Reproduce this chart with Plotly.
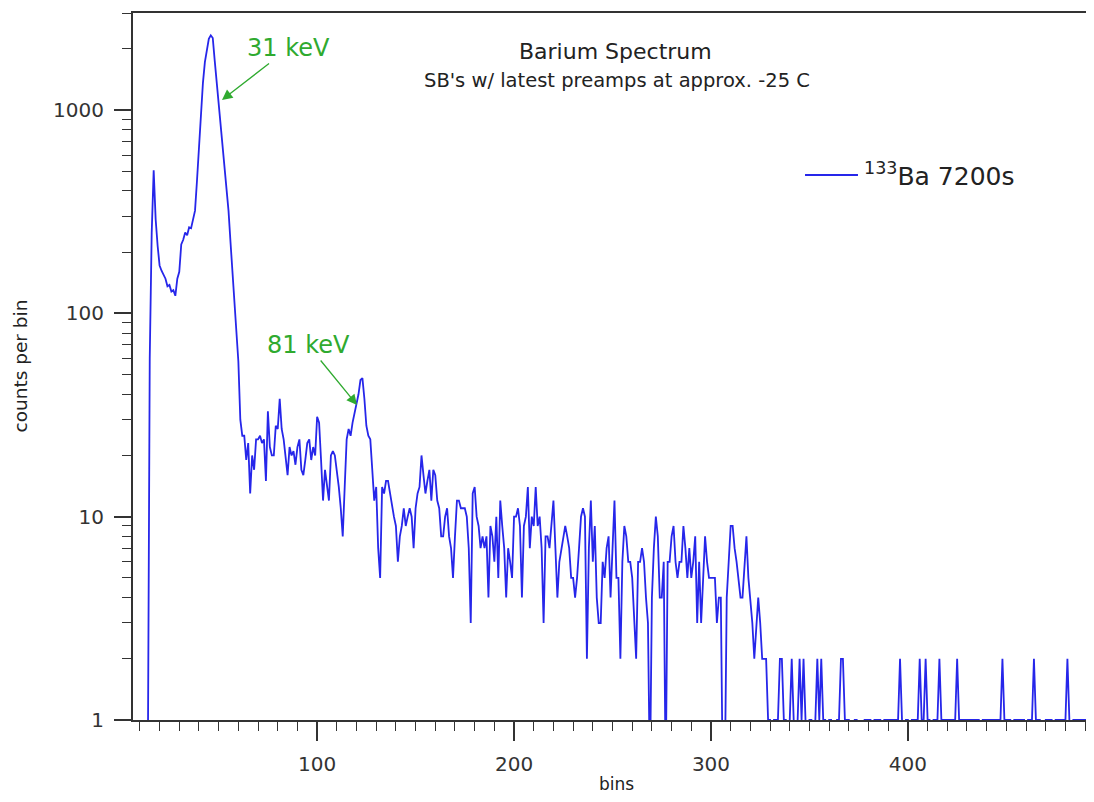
import math
import plotly.graph_objects as go

# ---- data ----
first_bin = 13
counts = [
    0, 0, 60, 250, 505, 290, 215, 172, 162, 155,            # 13-22
    148, 136, 138, 128, 130, 122, 148, 160, 218, 230,       # 23-32
    250, 242, 265, 262, 286, 320, 450, 680, 1010, 1355,     # 33-42
    1720, 1990, 2240, 2330, 2260, 1750, 1380, 1100, 870, 680,  # 43-52
    507, 400, 320, 225, 160, 115, 83, 58, 30, 25,           # 53-62
    25, 19, 23, 13, 20, 17, 24, 24, 25, 23,                 # 63-72
    24, 15, 33, 22, 20, 20, 28, 27, 38, 27,                 # 73-82
    24, 19, 16, 22, 20, 21, 18, 22, 24, 17,                 # 83-92
    16, 19, 23, 24, 19, 22, 20, 31, 29, 19,                 # 93-102
    12, 17, 14, 12, 20, 21, 20, 17, 14, 11,                 # 103-112
    8, 14, 24, 27, 25, 29, 32, 36, 40, 47,                  # 113-122
    48, 38, 28, 25, 24, 17, 12, 14, 7, 5,                   # 123-132
    14, 13, 15, 15, 13, 11, 10, 9, 6, 8,                    # 133-142
    9, 11, 9, 10, 11, 10, 7, 11, 13, 14,                    # 143-152
    20, 16, 13, 15, 17, 12, 17, 16, 12, 11,                 # 153-162
    8, 8, 10, 11, 8, 7, 5, 8, 12, 12,                       # 163-172
    11, 11, 11, 10, 7, 3, 13, 14, 10, 9,                    # 173-182
    7, 8, 7, 8, 4, 9, 8, 6, 10, 5,                          # 183-192
    12, 9, 7, 4, 7, 6, 5, 10, 10, 11,                       # 193-202
    9, 4, 9, 10, 14, 7, 10, 9, 14, 9,                       # 203-212
    10, 7, 3, 8, 8, 7, 9, 12, 7, 4,                         # 213-222
    6, 7, 8, 9, 8, 7, 5, 5, 4, 5,                           # 223-232
    7, 10, 11, 10, 2, 7, 12, 6, 9, 4,                       # 233-242
    3, 3, 6, 5, 7, 8, 4, 7, 12, 5,                          # 243-252
    5, 2, 6, 9, 8, 6, 6, 5, 3, 2,                           # 253-262
    6, 6, 7, 6, 4, 3, 0, 4, 7, 10,                          # 263-272
    8, 4, 4, 6, 0, 6, 6, 8, 9, 6,                           # 273-282
    5, 6, 6, 9, 7, 5, 7, 5, 6, 8,                           # 283-292
    3, 6, 3, 5, 8, 6, 5, 5, 5, 5,                           # 293-302
    3, 4, 4, 0, 0, 4, 6, 9, 9, 7,                           # 303-312
    6, 5, 4, 4, 6, 8, 5, 4, 3, 2,                           # 313-322
    3, 4, 3, 2, 2, 2, 1, 1, 0, 1,                           # 323-332
    1, 1, 2, 2, 1, 1, 0, 1, 2, 1,                           # 333-342
    0, 1, 2, 1, 2, 1, 0, 1, 1, 0,                           # 343-352
    1, 2, 1, 2, 1, 1, 0, 1, 1, 0,                           # 353-362
    0, 1, 1, 2, 2, 1, 1, 1, 0, 0,                           # 363-372
    1, 1, 0, 0, 0, 1, 1, 1, 1, 0,                           # 373-382
    1, 1, 1, 1, 0, 1, 1, 1, 1, 1,                           # 383-392
    1, 1, 1, 2, 1, 0, 1, 1, 0, 1,                           # 393-402
    1, 1, 1, 2, 1, 1, 2, 1, 1, 0,                           # 403-412
    1, 1, 1, 2, 1, 1, 1, 1, 1, 1,                           # 413-422
    1, 1, 2, 1, 1, 1, 1, 1, 1, 1,                           # 423-432
    1, 1, 1, 1, 0, 1, 1, 1, 1, 1,                           # 433-442
    1, 1, 1, 1, 1, 2, 1, 1, 1, 1,                           # 443-452
    0, 1, 1, 1, 1, 1, 1, 0, 1, 1,                           # 453-462
    1, 2, 1, 1, 1, 0, 0, 1, 1, 1,                           # 463-472
    1, 0, 1, 1, 1, 1, 1, 1, 2, 1,                           # 473-482
    0, 1, 1, 1, 1, 1, 1, 1, 1, 1,                           # 483-492
    1, 1,                                                   # 493-494
]
bins = list(range(first_bin, first_bin + len(counts)))

series_name = "<sup>133</sup>Ba 7200s"
y_major_ticks = [1, 10, 100, 1000]
y_major_text = ["1", "10", "100", "1000"]
y_minor_ticks = [2, 3, 4, 5, 6, 7, 8, 9, 20, 30, 40, 50, 60, 70, 80, 90,
                 200, 300, 400, 500, 600, 700, 800, 900, 2000, 3000]
x_major_ticks = [100, 200, 300, 400]
x_mid_ticks = [50, 150, 250, 350, 450]

title_text = "Barium Spectrum"
subtitle_text = "SB's w/ latest preamps at approx. -25 C"
peak_labels = ["31 keV", "81 keV"]

# zero-count bins cannot sit on a log axis: draw them just below the floor
y_plot = [c if c > 0 else 0.5 for c in counts]

FONT = "DejaVu Sans"
AX = "#333333"
GREEN = "#2faa2f"
BLUE = "#2626ea"

fig = go.Figure()
fig.add_trace(go.Scatter(
    x=bins, y=y_plot, mode="lines", name=series_name, showlegend=False,
    line=dict(color=BLUE, width=1.8),
))

XR = [6.5, 494.5]
# the page body adds an 8px offset; margins are reduced accordingly
fig.update_layout(
    width=1086, height=786,
    margin=dict(l=125, r=0, t=5, b=74),
    paper_bgcolor="white", plot_bgcolor="white",
    font=dict(family=FONT, color="#222222"),
    xaxis=dict(
        range=XR, showgrid=False, zeroline=False,
        showline=True, linecolor=AX, linewidth=2, mirror=True,
        tickmode="array", tickvals=x_major_ticks,
        ticks="outside", ticklen=19, tickwidth=1.5, tickcolor=AX,
        tickfont=dict(family=FONT, size=20, color="#333333"),
        ticklabelstandoff=6,
        minor=dict(tick0=0, dtick=10, ticks="outside", ticklen=9,
                   tickwidth=1.3, tickcolor=AX, showgrid=False),
    ),
    xaxis2=dict(
        range=XR, overlaying="x", anchor="y", side="bottom",
        showgrid=False, zeroline=False, showline=False,
        tickmode="array", tickvals=x_mid_ticks, showticklabels=False,
        ticks="outside", ticklen=13, tickwidth=1.3, tickcolor=AX,
    ),
    yaxis=dict(
        type="log", range=[0, math.log10(3000)],
        showgrid=False, zeroline=False,
        showline=True, linecolor=AX, linewidth=2,
        tickmode="array", tickvals=y_major_ticks, ticktext=y_major_text,
        ticks="outside", ticklen=17, tickwidth=1.5, tickcolor=AX,
        tickfont=dict(family=FONT, size=20, color="#333333"),
        ticklabelstandoff=6,
        minor=dict(tickmode="array", tickvals=y_minor_ticks, ticks="outside",
                   ticklen=9, tickwidth=1.3, tickcolor=AX, showgrid=False),
    ),
)

def txt(text, x, y, size, color="#222222", **kw):
    d = dict(text=text, xref="paper", yref="paper", x=x, y=y,
             xanchor="center", yanchor="middle", showarrow=False,
             font=dict(family=FONT, size=size, color=color))
    d.update(kw)
    return d

ann = [
    txt(title_text, 0.5016, 0.946, 22),
    txt(subtitle_text, 0.5036, 0.905, 19.5),
    txt("counts per bin", 0, 0.5, 18.5, xshift=-113, textangle=-90),
    txt("bins", 0.5036, 0, 17, yshift=-64),
    # legend entry text
    txt(series_name, 0.7586, 0.771, 25, xanchor="left"),
    # peak labels with arrows (x,y = arrow head; ax,ay = text offset in px)
    dict(text=peak_labels[0], xref="paper", yref="paper", x=0.0926, y=0.877,
         ax=67, ay=-52, showarrow=True, arrowhead=2, arrowsize=1.6,
         arrowwidth=1.3, arrowcolor=GREEN, standoff=0,
         font=dict(family=FONT, size=24, color=GREEN)),
    dict(text=peak_labels[1], xref="paper", yref="paper", x=0.2331, y=0.4455,
         ax=-49, ay=-60, showarrow=True, arrowhead=2, arrowsize=1.6,
         arrowwidth=1.3, arrowcolor=GREEN, standoff=0,
         font=dict(family=FONT, size=24, color=GREEN)),
]
fig.update_layout(annotations=ann)

# legend line sample
fig.add_shape(type="line", xref="paper", yref="paper",
              x0=0.6993, x1=0.7544, y0=0.771, y1=0.771,
              line=dict(color=BLUE, width=2))

fig.write_html("out.html")
